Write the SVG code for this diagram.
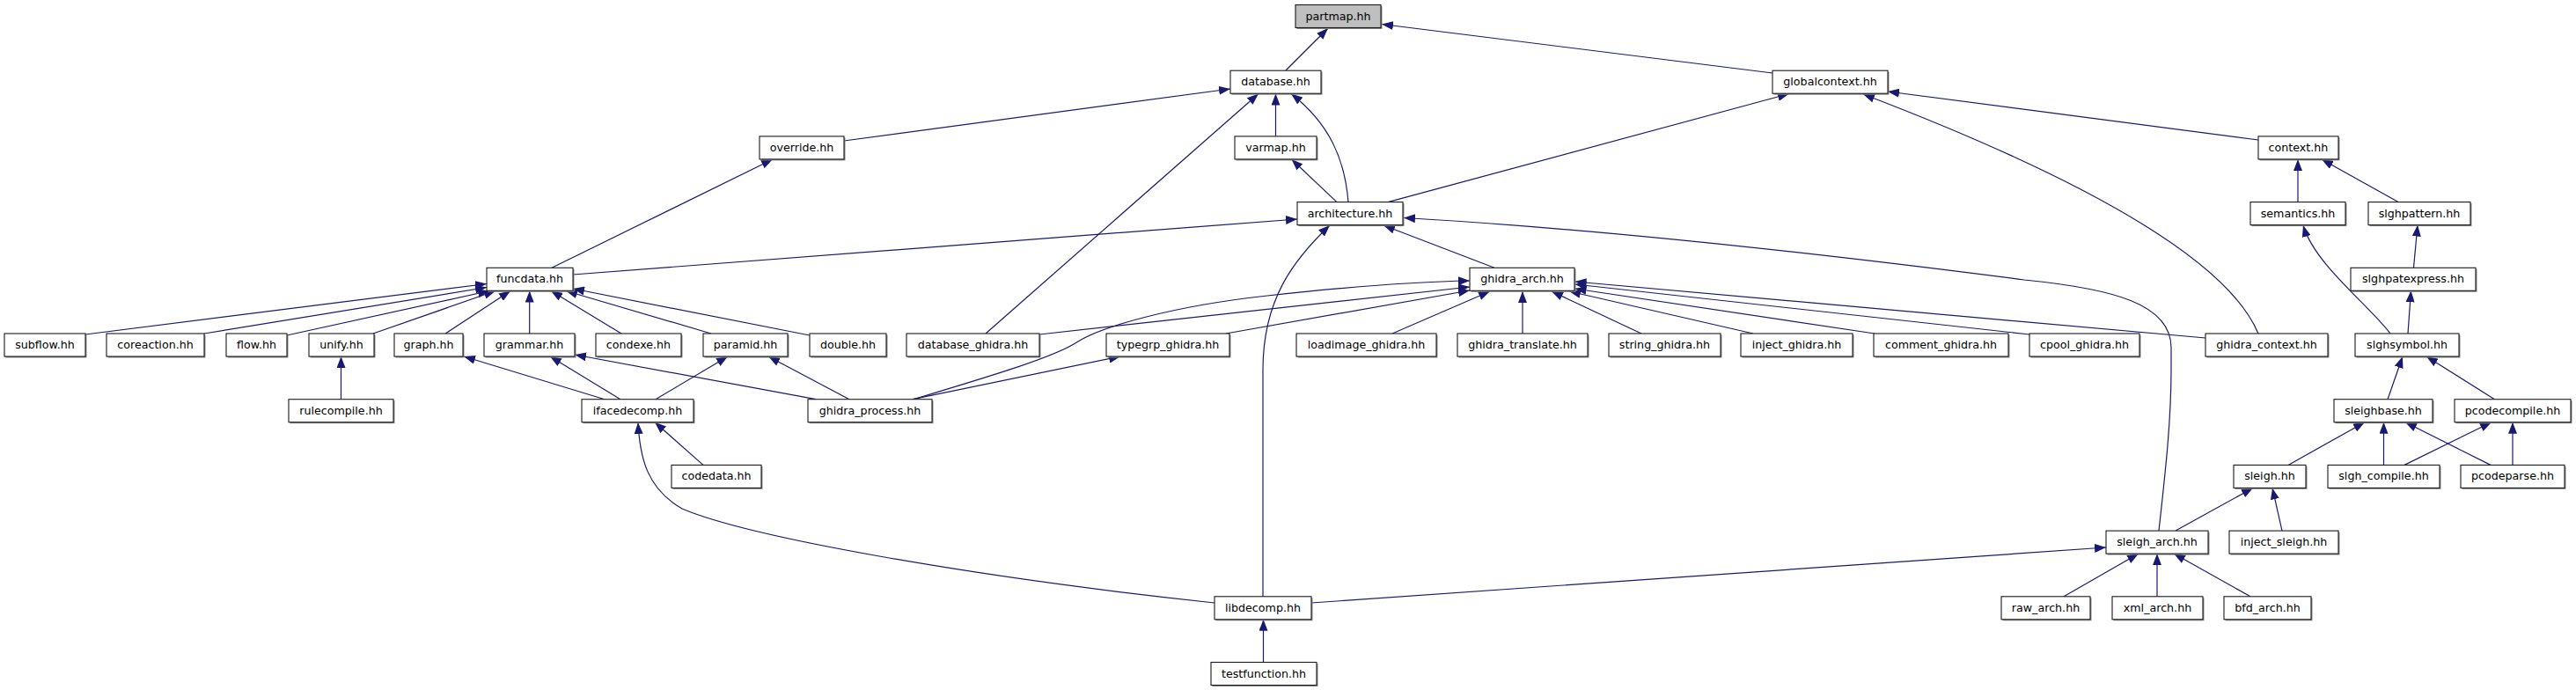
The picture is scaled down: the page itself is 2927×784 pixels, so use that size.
<svg xmlns="http://www.w3.org/2000/svg" width="2927" height="784" viewBox="0 0 2927 784">
<style>
.sh{fill:#8a8a8a;stroke:none}
.bx{fill:#fff;stroke:#1a1a1a;stroke-width:1.1}
.root{fill:#bfbfbf}
text{font-family:"DejaVu Sans","Liberation Sans",sans-serif;font-size:12.67px;fill:#000;text-anchor:middle}
.e{fill:none;stroke:#191970;stroke-width:1.2}
</style>
<defs>
<marker id="ah" markerUnits="userSpaceOnUse" markerWidth="13" markerHeight="10" viewBox="0 0 13 10" refX="13" refY="5" orient="auto">
<path d="M0,0 L13,5 L0,10 z" fill="#191970"/>
</marker>
</defs>
<rect width="2927" height="784" fill="#fff"/>
<g id="edges">
<path class="e" marker-end="url(#ah)" d="M1461,80 L1509,32"/>
<path class="e" marker-end="url(#ah)" d="M2014,83 L1570,27.5"/>
<path class="e" marker-end="url(#ah)" d="M959,160 L1398,101"/>
<path class="e" marker-end="url(#ah)" d="M1449.5,155 L1449.5,106.5"/>
<path class="e" marker-end="url(#ah)" d="M1532,229.6 C1528,180 1510,140 1467,106.5"/>
<path class="e" marker-end="url(#ah)" d="M1120,379 L1430,106.5"/>
<path class="e" marker-end="url(#ah)" d="M1577,229.6 L2033,106.5"/>
<path class="e" marker-end="url(#ah)" d="M2566,159 L2145,104"/>
<path class="e" marker-end="url(#ah)" d="M2566,379 C2535,305 2400,215 2117,107"/>
<path class="e" marker-end="url(#ah)" d="M627,304.3 L878,181"/>
<path class="e" marker-end="url(#ah)" d="M1519,229.6 L1467.5,181"/>
<path class="e" marker-end="url(#ah)" d="M651,312 L1474,249"/>
<path class="e" marker-end="url(#ah)" d="M1698,304.3 L1572,256"/>
<path class="e" marker-end="url(#ah)" d="M1435,677.8 L1435,420 C1435,340 1470,295 1511,256"/>
<path class="e" marker-end="url(#ah)" d="M2453,603 C2460,540 2467,480 2467,420 L2467,395 C2467,345 2400,328 2300,318 C2130,296 1850,262 1595,247.5"/>
<path class="e" marker-end="url(#ah)" d="M97,380 L553,322.5"/>
<path class="e" marker-end="url(#ah)" d="M232,379 L553,326.5"/>
<path class="e" marker-end="url(#ah)" d="M326,381 L556,330.5"/>
<path class="e" marker-end="url(#ah)" d="M424,379 L563,330.5"/>
<path class="e" marker-end="url(#ah)" d="M506,379 L580,330.5"/>
<path class="e" marker-end="url(#ah)" d="M601.7,379 L601.7,330.5"/>
<path class="e" marker-end="url(#ah)" d="M706,379 L626,330.5"/>
<path class="e" marker-end="url(#ah)" d="M808,379 L643,330.5"/>
<path class="e" marker-end="url(#ah)" d="M920,381 L651,328"/>
<path class="e" marker-end="url(#ah)" d="M1181,380 L1670,326"/>
<path class="e" marker-end="url(#ah)" d="M1037,454 C1130,426 1200,405 1225,388 C1250,372 1330,348 1440,336 C1540,325 1610,320 1670,319"/>
<path class="e" marker-end="url(#ah)" d="M1393,379 L1670,330"/>
<path class="e" marker-end="url(#ah)" d="M1582,379 L1693,331"/>
<path class="e" marker-end="url(#ah)" d="M1730,379 L1730,331"/>
<path class="e" marker-end="url(#ah)" d="M1865,379 L1763,331"/>
<path class="e" marker-end="url(#ah)" d="M1992,379 L1783,331"/>
<path class="e" marker-end="url(#ah)" d="M2130,379 L1789.5,328"/>
<path class="e" marker-end="url(#ah)" d="M2306,380 L1789.5,323"/>
<path class="e" marker-end="url(#ah)" d="M2506,384 L1789.5,320"/>
<path class="e" marker-end="url(#ah)" d="M387.5,453.7 L387.5,405"/>
<path class="e" marker-end="url(#ah)" d="M687,453.7 L527,405"/>
<path class="e" marker-end="url(#ah)" d="M705,453.7 L625,405"/>
<path class="e" marker-end="url(#ah)" d="M745,453.7 L827,405"/>
<path class="e" marker-end="url(#ah)" d="M927,453.7 L653,403"/>
<path class="e" marker-end="url(#ah)" d="M965,453.7 L873,405"/>
<path class="e" marker-end="url(#ah)" d="M1037,453.7 L1273,405"/>
<path class="e" marker-end="url(#ah)" d="M799,528.4 L744,479.7"/>
<path class="e" marker-end="url(#ah)" d="M1380,685 C1100,655 850,610 775,578 C735,555 727,520 725,480"/>
<path class="e" marker-end="url(#ah)" d="M1435.5,752.5 L1435.5,703.8"/>
<path class="e" marker-end="url(#ah)" d="M2611,229.6 L2611,181"/>
<path class="e" marker-end="url(#ah)" d="M2725,229.6 L2638,181"/>
<path class="e" marker-end="url(#ah)" d="M2742.5,304.3 L2747,255.6"/>
<path class="e" marker-end="url(#ah)" d="M2716,379 C2690,345 2630,300 2617,256"/>
<path class="e" marker-end="url(#ah)" d="M2736,379 L2739.5,330.3"/>
<path class="e" marker-end="url(#ah)" d="M2713,453.7 L2730,405"/>
<path class="e" marker-end="url(#ah)" d="M2834.5,453.7 L2757,405"/>
<path class="e" marker-end="url(#ah)" d="M2600,528.4 L2687,479.7"/>
<path class="e" marker-end="url(#ah)" d="M2708.5,528.4 L2708.5,479.7"/>
<path class="e" marker-end="url(#ah)" d="M2830,528.4 L2733,479.7"/>
<path class="e" marker-end="url(#ah)" d="M2732,528.4 L2831,479.7"/>
<path class="e" marker-end="url(#ah)" d="M2855,528.4 L2855,479.7"/>
<path class="e" marker-end="url(#ah)" d="M2472,603.1 L2560,554.4"/>
<path class="e" marker-end="url(#ah)" d="M2593,603.1 L2582,554.4"/>
<path class="e" marker-end="url(#ah)" d="M2345,677.8 L2430,629.1"/>
<path class="e" marker-end="url(#ah)" d="M2451,677.8 L2451,629.1"/>
<path class="e" marker-end="url(#ah)" d="M2557,677.8 L2470,629.1"/>
<path class="e" marker-end="url(#ah)" d="M1490,685 L2393,622"/>
</g>
<g id="nodes">
<g id="n_partmap"><rect class="sh" x="1473.5" y="7" width="97" height="26"/><rect class="bx root" x="1472" y="5.5" width="97" height="26"/><text x="1520.5" y="22.5">partmap.hh</text></g>
<g id="n_database"><rect class="sh" x="1399.5" y="81.7" width="103" height="26"/><rect class="bx" x="1398" y="80.2" width="103" height="26"/><text x="1449.5" y="97.2">database.hh</text></g>
<g id="n_globalcontext"><rect class="sh" x="2015.5" y="81.7" width="131" height="26"/><rect class="bx" x="2014" y="80.2" width="131" height="26"/><text x="2079.5" y="97.2">globalcontext.hh</text></g>
<g id="n_override"><rect class="sh" x="864.5" y="156.4" width="96" height="26"/><rect class="bx" x="863" y="154.9" width="96" height="26"/><text x="911" y="171.9">override.hh</text></g>
<g id="n_varmap"><rect class="sh" x="1404.5" y="156.4" width="93" height="26"/><rect class="bx" x="1403" y="154.9" width="93" height="26"/><text x="1449.5" y="171.9">varmap.hh</text></g>
<g id="n_context"><rect class="sh" x="2567.5" y="156.4" width="91" height="26"/><rect class="bx" x="2566" y="154.9" width="91" height="26"/><text x="2611.5" y="171.9">context.hh</text></g>
<g id="n_architecture"><rect class="sh" x="1475.5" y="231.1" width="120" height="26"/><rect class="bx" x="1474" y="229.6" width="120" height="26"/><text x="1534" y="246.6">architecture.hh</text></g>
<g id="n_semantics"><rect class="sh" x="2558.5" y="231.1" width="108" height="26"/><rect class="bx" x="2557" y="229.6" width="108" height="26"/><text x="2611" y="246.6">semantics.hh</text></g>
<g id="n_slghpattern"><rect class="sh" x="2692.5" y="231.1" width="116" height="26"/><rect class="bx" x="2691" y="229.6" width="116" height="26"/><text x="2749" y="246.6">slghpattern.hh</text></g>
<g id="n_funcdata"><rect class="sh" x="554.5" y="305.8" width="98" height="26"/><rect class="bx" x="553" y="304.3" width="98" height="26"/><text x="602" y="321.3">funcdata.hh</text></g>
<g id="n_ghidra_arch"><rect class="sh" x="1671.5" y="305.8" width="119" height="26"/><rect class="bx" x="1670" y="304.3" width="119" height="26"/><text x="1729.5" y="321.3">ghidra_arch.hh</text></g>
<g id="n_slghpatexpress"><rect class="sh" x="2672.5" y="305.8" width="142" height="26"/><rect class="bx" x="2671" y="304.3" width="142" height="26"/><text x="2742" y="321.3">slghpatexpress.hh</text></g>
<g id="n_subflow"><rect class="sh" x="6.5" y="380.5" width="92" height="26"/><rect class="bx" x="5" y="379" width="92" height="26"/><text x="51" y="396">subflow.hh</text></g>
<g id="n_coreaction"><rect class="sh" x="122.5" y="380.5" width="111" height="26"/><rect class="bx" x="121" y="379" width="111" height="26"/><text x="176.5" y="396">coreaction.hh</text></g>
<g id="n_flow"><rect class="sh" x="258.5" y="380.5" width="69" height="26"/><rect class="bx" x="257" y="379" width="69" height="26"/><text x="291.5" y="396">flow.hh</text></g>
<g id="n_unify"><rect class="sh" x="352.5" y="380.5" width="74" height="26"/><rect class="bx" x="351" y="379" width="74" height="26"/><text x="388" y="396">unify.hh</text></g>
<g id="n_graph"><rect class="sh" x="449.5" y="380.5" width="78" height="26"/><rect class="bx" x="448" y="379" width="78" height="26"/><text x="487" y="396">graph.hh</text></g>
<g id="n_grammar"><rect class="sh" x="551.5" y="380.5" width="103" height="26"/><rect class="bx" x="550" y="379" width="103" height="26"/><text x="601.5" y="396">grammar.hh</text></g>
<g id="n_condexe"><rect class="sh" x="678.5" y="380.5" width="97" height="26"/><rect class="bx" x="677" y="379" width="97" height="26"/><text x="725.5" y="396">condexe.hh</text></g>
<g id="n_paramid"><rect class="sh" x="800.5" y="380.5" width="96" height="26"/><rect class="bx" x="799" y="379" width="96" height="26"/><text x="847" y="396">paramid.hh</text></g>
<g id="n_double"><rect class="sh" x="921.5" y="380.5" width="87" height="26"/><rect class="bx" x="920" y="379" width="87" height="26"/><text x="963.5" y="396">double.hh</text></g>
<g id="n_database_ghidra"><rect class="sh" x="1031.5" y="380.5" width="151" height="26"/><rect class="bx" x="1030" y="379" width="151" height="26"/><text x="1105.5" y="396">database_ghidra.hh</text></g>
<g id="n_typegrp_ghidra"><rect class="sh" x="1258.5" y="380.5" width="140" height="26"/><rect class="bx" x="1257" y="379" width="140" height="26"/><text x="1327" y="396">typegrp_ghidra.hh</text></g>
<g id="n_loadimage_ghidra"><rect class="sh" x="1474.5" y="380.5" width="159" height="26"/><rect class="bx" x="1473" y="379" width="159" height="26"/><text x="1552.5" y="396">loadimage_ghidra.hh</text></g>
<g id="n_ghidra_translate"><rect class="sh" x="1657.5" y="380.5" width="148" height="26"/><rect class="bx" x="1656" y="379" width="148" height="26"/><text x="1730" y="396">ghidra_translate.hh</text></g>
<g id="n_string_ghidra"><rect class="sh" x="1829.5" y="380.5" width="127" height="26"/><rect class="bx" x="1828" y="379" width="127" height="26"/><text x="1891.5" y="396">string_ghidra.hh</text></g>
<g id="n_inject_ghidra"><rect class="sh" x="1979.5" y="380.5" width="127" height="26"/><rect class="bx" x="1978" y="379" width="127" height="26"/><text x="2041.5" y="396">inject_ghidra.hh</text></g>
<g id="n_comment_ghidra"><rect class="sh" x="2130.5" y="380.5" width="153" height="26"/><rect class="bx" x="2129" y="379" width="153" height="26"/><text x="2205.5" y="396">comment_ghidra.hh</text></g>
<g id="n_cpool_ghidra"><rect class="sh" x="2307.5" y="380.5" width="125" height="26"/><rect class="bx" x="2306" y="379" width="125" height="26"/><text x="2368.5" y="396">cpool_ghidra.hh</text></g>
<g id="n_ghidra_context"><rect class="sh" x="2507.5" y="380.5" width="139" height="26"/><rect class="bx" x="2506" y="379" width="139" height="26"/><text x="2575.5" y="396">ghidra_context.hh</text></g>
<g id="n_slghsymbol"><rect class="sh" x="2677.5" y="380.5" width="118" height="26"/><rect class="bx" x="2676" y="379" width="118" height="26"/><text x="2735" y="396">slghsymbol.hh</text></g>
<g id="n_rulecompile"><rect class="sh" x="329.5" y="455.2" width="119" height="26"/><rect class="bx" x="328" y="453.7" width="119" height="26"/><text x="387.5" y="470.7">rulecompile.hh</text></g>
<g id="n_ifacedecomp"><rect class="sh" x="662.5" y="455.2" width="127" height="26"/><rect class="bx" x="661" y="453.7" width="127" height="26"/><text x="724.5" y="470.7">ifacedecomp.hh</text></g>
<g id="n_ghidra_process"><rect class="sh" x="919.5" y="455.2" width="141" height="26"/><rect class="bx" x="918" y="453.7" width="141" height="26"/><text x="988.5" y="470.7">ghidra_process.hh</text></g>
<g id="n_sleighbase"><rect class="sh" x="2653.5" y="455.2" width="112" height="26"/><rect class="bx" x="2652" y="453.7" width="112" height="26"/><text x="2708" y="470.7">sleighbase.hh</text></g>
<g id="n_pcodecompile"><rect class="sh" x="2790.5" y="455.2" width="132" height="26"/><rect class="bx" x="2789" y="453.7" width="132" height="26"/><text x="2855" y="470.7">pcodecompile.hh</text></g>
<g id="n_codedata"><rect class="sh" x="764.5" y="529.9" width="102" height="26"/><rect class="bx" x="763" y="528.4" width="102" height="26"/><text x="814" y="545.4">codedata.hh</text></g>
<g id="n_sleigh"><rect class="sh" x="2539.5" y="529.9" width="82" height="26"/><rect class="bx" x="2538" y="528.4" width="82" height="26"/><text x="2579" y="545.4">sleigh.hh</text></g>
<g id="n_slgh_compile"><rect class="sh" x="2646.5" y="529.9" width="127" height="26"/><rect class="bx" x="2645" y="528.4" width="127" height="26"/><text x="2708.5" y="545.4">slgh_compile.hh</text></g>
<g id="n_pcodeparse"><rect class="sh" x="2797.5" y="529.9" width="118" height="26"/><rect class="bx" x="2796" y="528.4" width="118" height="26"/><text x="2855" y="545.4">pcodeparse.hh</text></g>
<g id="n_sleigh_arch"><rect class="sh" x="2394.5" y="604.6" width="116" height="26"/><rect class="bx" x="2393" y="603.1" width="116" height="26"/><text x="2451" y="620.1">sleigh_arch.hh</text></g>
<g id="n_inject_sleigh"><rect class="sh" x="2534.5" y="604.6" width="124" height="26"/><rect class="bx" x="2533" y="603.1" width="124" height="26"/><text x="2595" y="620.1">inject_sleigh.hh</text></g>
<g id="n_raw_arch"><rect class="sh" x="2275.5" y="679.3" width="101" height="26"/><rect class="bx" x="2274" y="677.8" width="101" height="26"/><text x="2324.5" y="694.8">raw_arch.hh</text></g>
<g id="n_xml_arch"><rect class="sh" x="2401.5" y="679.3" width="103" height="26"/><rect class="bx" x="2400" y="677.8" width="103" height="26"/><text x="2451.5" y="694.8">xml_arch.hh</text></g>
<g id="n_bfd_arch"><rect class="sh" x="2528.5" y="679.3" width="99" height="26"/><rect class="bx" x="2527" y="677.8" width="99" height="26"/><text x="2576.5" y="694.8">bfd_arch.hh</text></g>
<g id="n_libdecomp"><rect class="sh" x="1381.5" y="679.3" width="110" height="26"/><rect class="bx" x="1380" y="677.8" width="110" height="26"/><text x="1435" y="694.8">libdecomp.hh</text></g>
<g id="n_testfunction"><rect class="sh" x="1377.5" y="754" width="120" height="26"/><rect class="bx" x="1376" y="752.5" width="120" height="26"/><text x="1436" y="769.5">testfunction.hh</text></g>
</g>
</svg>
